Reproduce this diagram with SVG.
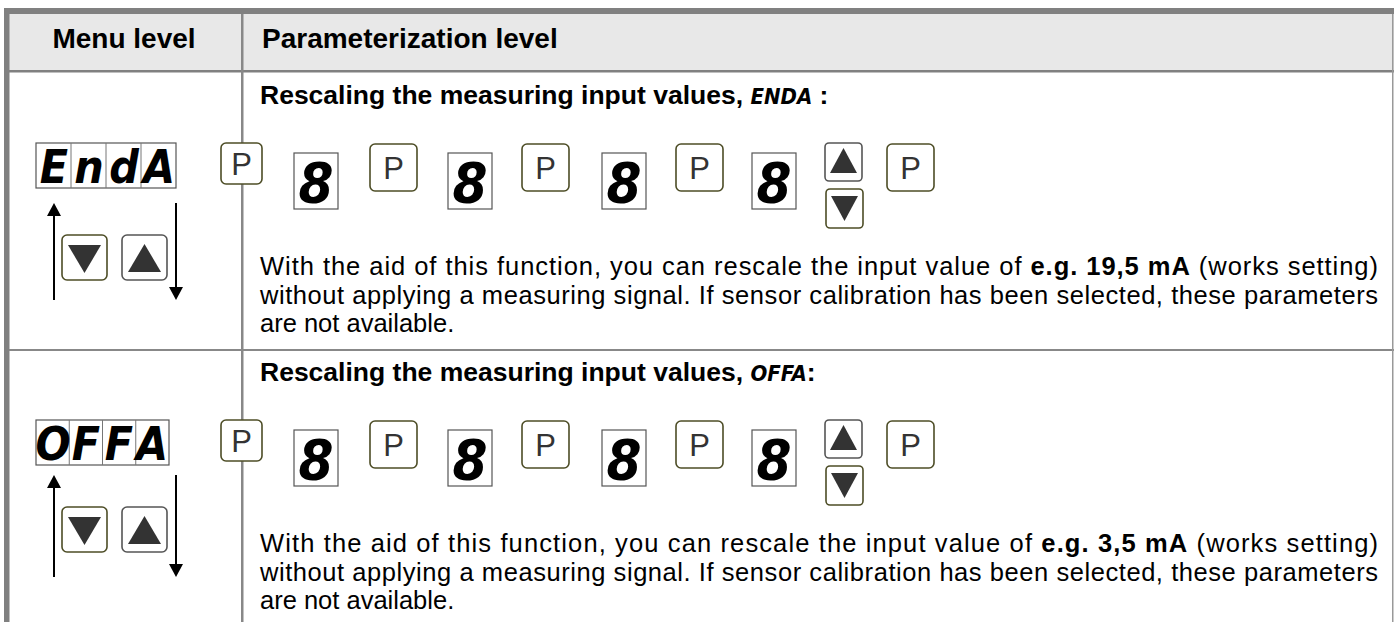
<svg xmlns="http://www.w3.org/2000/svg" width="1394" height="622" viewBox="0 0 1394 622">
<style>
.frame{fill:#808080}
.hdr{fill:#e8e8e8}
.th{font-family:"Liberation Sans",Arial,sans-serif;font-weight:bold;font-size:28px;fill:#000}
.h2{font-family:"Liberation Sans",Arial,sans-serif;font-weight:bold;font-size:26.5px;fill:#000}
.seg{font-family:"DejaVu Sans Condensed","DejaVu Sans",sans-serif;font-style:oblique;font-weight:bold;font-size:22px}
.body{font-family:"Liberation Sans",Arial,sans-serif;font-size:25.5px;fill:#000}
.pbtn{fill:#fff;stroke:#4d4d26;stroke-width:1.6}
.gbtn{fill:#fff;stroke:#555;stroke-width:1.6}
.plbl{font-family:"Liberation Sans",Arial,sans-serif;font-size:31px;fill:#333;text-anchor:middle}
.tri{fill:#333}
.dbox{fill:#fff;stroke:#555;stroke-width:1.2}
.dcell{stroke:#777;stroke-width:1}
.dig{font-family:"DejaVu Sans Condensed","DejaVu Sans",sans-serif;font-style:oblique;font-weight:bold;font-size:56px;fill:#000;text-anchor:middle}
.disp{font-family:"DejaVu Sans Condensed","DejaVu Sans",sans-serif;font-style:oblique;font-weight:bold;font-size:46px;fill:#000;text-anchor:middle}
.arr{stroke:#000;stroke-width:2;fill:none;marker-end:url(#ah)}
</style>
<defs>
<marker id="ah" viewBox="0 0 13 14" refX="0" refY="7" markerWidth="13" markerHeight="14" markerUnits="userSpaceOnUse" orient="auto">
<path d="M0,0 L13,7 L0,14 Z" fill="#000"/>
</marker>
</defs>

<g id="table">
<rect x="9" y="14" width="1385" height="57" class="hdr"/>
<rect x="4" y="8" width="1390" height="6" class="frame"/>
<rect x="4" y="8" width="5.5" height="614" class="frame"/>
<rect x="9" y="70" width="1385" height="2.5" class="frame"/>
<rect x="241" y="14" width="2.5" height="608" fill="#888"/>
<rect x="9" y="349" width="1385" height="2" fill="#888"/>
<rect x="1392" y="14" width="1.5" height="608" fill="#999"/>
<text x="124" y="48" class="th" text-anchor="middle">Menu level</text>
<text x="262" y="48" class="th">Parameterization level</text>
</g>

<g id="row1">
<text x="260" y="104" class="h2">Rescaling the measuring input values, <tspan class="seg">ENDA</tspan> :</text>
<g id="display-enda">
<rect x="36" y="143" width="140" height="45" class="dbox"/>
<line x1="71" y1="143" x2="71" y2="188" class="dcell"/>
<line x1="106" y1="143" x2="106" y2="188" class="dcell"/>
<line x1="141" y1="143" x2="141" y2="188" class="dcell"/>
<text x="54" y="183" class="disp">E</text>
<text x="89" y="183" class="disp">n</text>
<text x="124" y="183" class="disp">d</text>
<text x="159" y="183" class="disp">A</text>
</g>
<g id="menu-down-1"><rect x="62" y="235" width="45" height="45" rx="5" class="pbtn"/><path d="M68,245 L101,245 L84.5,273 Z" class="tri"/></g>
<g id="menu-up-1"><rect x="122" y="235" width="45" height="45" rx="5" class="gbtn"/><path d="M128,272 L161,272 L144.5,244 Z" class="tri"/></g>
<g id="p1-1"><rect x="221" y="143" width="41" height="41" rx="5" class="pbtn"/><text x="241.5" y="175" class="plbl">P</text></g>
<g id="d1-1"><rect x="294" y="153" width="44" height="56" class="dbox"/><text x="316" y="202" class="dig">8</text></g>
<g id="p2-1"><rect x="370" y="144" width="47" height="47" rx="5" class="pbtn"/><text x="393.5" y="179" class="plbl">P</text></g>
<g id="d2-1"><rect x="448" y="153" width="44" height="56" class="dbox"/><text x="470" y="202" class="dig">8</text></g>
<g id="p3-1"><rect x="522" y="144" width="47" height="47" rx="5" class="pbtn"/><text x="545.5" y="179" class="plbl">P</text></g>
<g id="d3-1"><rect x="602" y="153" width="44" height="56" class="dbox"/><text x="624" y="202" class="dig">8</text></g>
<g id="p4-1"><rect x="676" y="144" width="47" height="47" rx="5" class="pbtn"/><text x="699.5" y="179" class="plbl">P</text></g>
<g id="d4-1"><rect x="752" y="153" width="44" height="56" class="dbox"/><text x="774" y="202" class="dig">8</text></g>
<g id="up-1"><rect x="825" y="143" width="37" height="38" rx="4" class="gbtn"/><path d="M830,173 L857,173 L843.5,148 Z" class="tri"/></g>
<g id="down-1"><rect x="826" y="189" width="37" height="39" rx="4" class="pbtn"/><path d="M831,196 L858,196 L844.5,221 Z" class="tri"/></g>
<g id="p5-1"><rect x="887" y="144" width="47" height="47" rx="5" class="pbtn"/><text x="910.5" y="179" class="plbl">P</text></g>
<text x="260" y="275" class="body" textLength="1118" lengthAdjust="spacing">With the aid of this function, you can rescale the input value of <tspan font-weight="bold">e.g. 19,5 mA</tspan> (works setting)</text>
<text x="260" y="303.5" class="body" textLength="1118" lengthAdjust="spacing">without applying a measuring signal. If sensor calibration has been selected, these parameters</text>
<text x="260" y="332" class="body">are not available.</text>
</g>

<g id="row2">
<text x="260" y="381" class="h2">Rescaling the measuring input values, <tspan class="seg">OFFA</tspan>:</text>
<g id="display-offa">
<rect x="36" y="420" width="133" height="45" class="dbox"/>
<line x1="69.25" y1="420" x2="69.25" y2="465" class="dcell"/>
<line x1="102.5" y1="420" x2="102.5" y2="465" class="dcell"/>
<line x1="135.75" y1="420" x2="135.75" y2="465" class="dcell"/>
<text x="53" y="460" class="disp">O</text>
<text x="86" y="460" class="disp">F</text>
<text x="119" y="460" class="disp">F</text>
<text x="152" y="460" class="disp">A</text>
</g>
<g id="menu-down-2"><rect x="62" y="507" width="45" height="45" rx="5" class="pbtn"/><path d="M68,517 L101,517 L84.5,545 Z" class="tri"/></g>
<g id="menu-up-2"><rect x="122" y="507" width="45" height="45" rx="5" class="gbtn"/><path d="M128,544 L161,544 L144.5,516 Z" class="tri"/></g>
<g id="p1-2"><rect x="221" y="420" width="41" height="41" rx="5" class="pbtn"/><text x="241.5" y="452" class="plbl">P</text></g>
<g id="d1-2"><rect x="294" y="430" width="44" height="56" class="dbox"/><text x="316" y="479" class="dig">8</text></g>
<g id="p2-2"><rect x="370" y="421" width="47" height="47" rx="5" class="pbtn"/><text x="393.5" y="456" class="plbl">P</text></g>
<g id="d2-2"><rect x="448" y="430" width="44" height="56" class="dbox"/><text x="470" y="479" class="dig">8</text></g>
<g id="p3-2"><rect x="522" y="421" width="47" height="47" rx="5" class="pbtn"/><text x="545.5" y="456" class="plbl">P</text></g>
<g id="d3-2"><rect x="602" y="430" width="44" height="56" class="dbox"/><text x="624" y="479" class="dig">8</text></g>
<g id="p4-2"><rect x="676" y="421" width="47" height="47" rx="5" class="pbtn"/><text x="699.5" y="456" class="plbl">P</text></g>
<g id="d4-2"><rect x="752" y="430" width="44" height="56" class="dbox"/><text x="774" y="479" class="dig">8</text></g>
<g id="up-2"><rect x="825" y="420" width="37" height="38" rx="4" class="gbtn"/><path d="M830,450 L857,450 L843.5,425 Z" class="tri"/></g>
<g id="down-2"><rect x="826" y="466" width="37" height="39" rx="4" class="pbtn"/><path d="M831,473 L858,473 L844.5,498 Z" class="tri"/></g>
<g id="p5-2"><rect x="887" y="421" width="47" height="47" rx="5" class="pbtn"/><text x="910.5" y="456" class="plbl">P</text></g>
<text x="260" y="552" class="body" textLength="1118" lengthAdjust="spacing">With the aid of this function, you can rescale the input value of <tspan font-weight="bold">e.g. 3,5 mA</tspan> (works setting)</text>
<text x="260" y="580.5" class="body" textLength="1118" lengthAdjust="spacing">without applying a measuring signal. If sensor calibration has been selected, these parameters</text>
<text x="260" y="609" class="body">are not available.</text>
</g>

<g id="connectors">
<line x1="54" y1="300" x2="54" y2="216" class="arr"/>
<line x1="176" y1="203" x2="176" y2="287" class="arr"/>
<line x1="54" y1="577" x2="54" y2="488" class="arr"/>
<line x1="176" y1="475" x2="176" y2="564" class="arr"/>
</g>
</svg>
